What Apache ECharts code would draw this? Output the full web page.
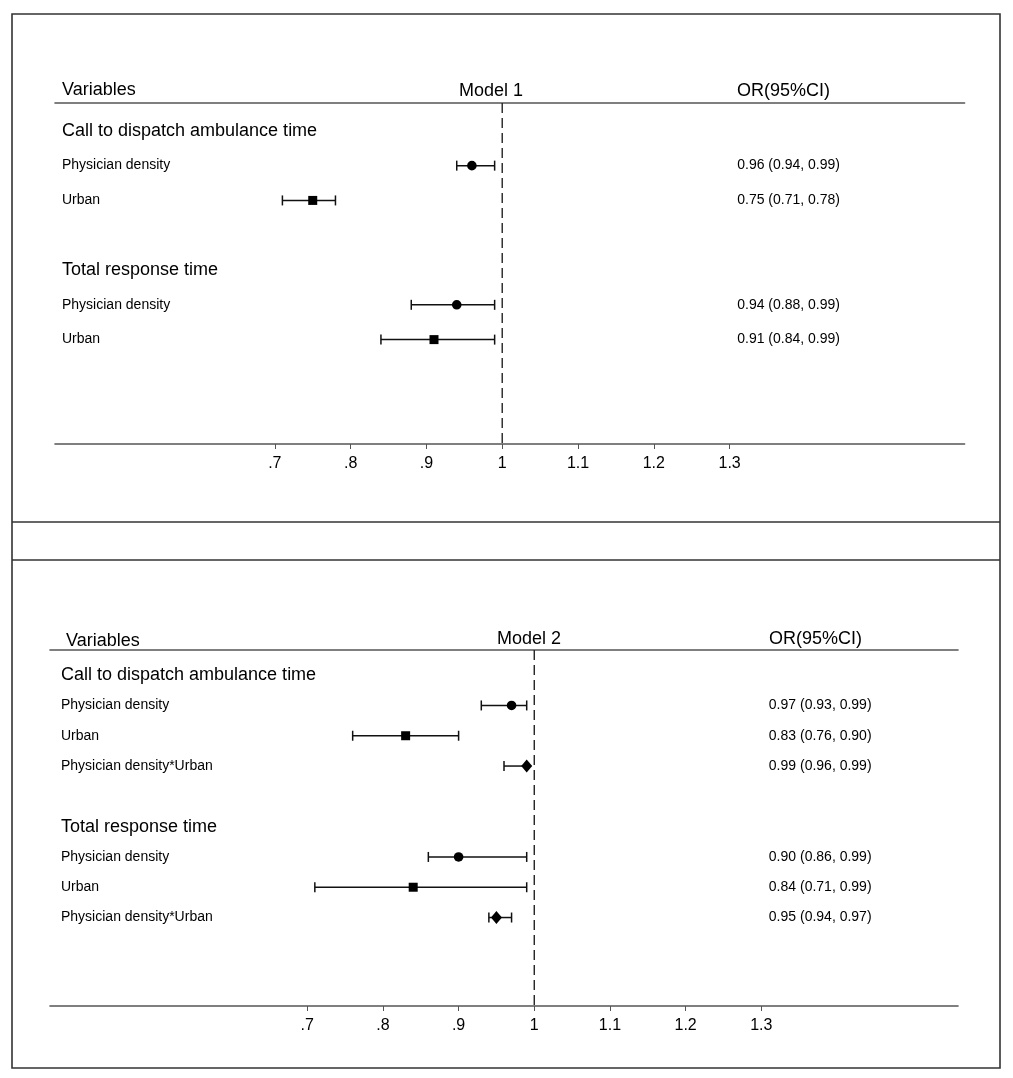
<!DOCTYPE html>
<html><head><meta charset="utf-8">
<script src="https://cdn.jsdelivr.net/npm/echarts@6/dist/echarts.min.js"></script>
<style>html,body{margin:0;padding:0;background:#fff}#c{width:1013px;height:1078px}</style>
</head><body><div id="c"></div>
<script>
// ---- data ----
const groups = ['Call to dispatch ambulance time', 'Total response time'];
const m1Vars = ['Physician density', 'Urban'];
const m2Vars = ['Physician density', 'Urban', 'Physician density*Urban'];
// Model 1 (group-major order: call-to-dispatch vars, then total response vars)
const m1OR = [0.96, 0.75, 0.94, 0.91];
const m1Lo = [0.94, 0.71, 0.88, 0.84];
const m1Hi = [0.99, 0.78, 0.99, 0.99];
// Model 2
const m2OR = [0.97, 0.83, 0.99, 0.90, 0.84, 0.95];
const m2Lo = [0.93, 0.76, 0.96, 0.86, 0.71, 0.94];
const m2Hi = [0.99, 0.90, 0.99, 0.99, 0.99, 0.97];
const tickVals = [0.7, 0.8, 0.9, 1, 1.1, 1.2, 1.3];
const tickLabels = ['.7', '.8', '.9', '1', '1.1', '1.2', '1.3'];
const modelTitles = ['Model 1', 'Model 2'];
const headVar = 'Variables';
const headOR = 'OR(95%CI)';
const markerKind = {'Physician density': 0, 'Urban': 1, 'Physician density*Urban': 2};

const FONT = '"Liberation Sans", Arial, Helvetica, sans-serif';

function buildPanel(vars, or, lo, hi) {
  const est = [], labels = [];
  let r = 0, k = 0;
  groups.forEach(g => {
    labels.push({row: r, text: g, kind: 'group'});
    vars.forEach(v => {
      r++;
      labels.push({row: r, text: v, kind: 'item'});
      labels.push({row: r, text: or[k].toFixed(2) + ' (' + lo[k].toFixed(2) + ', ' + hi[k].toFixed(2) + ')', kind: 'or'});
      est.push([or[k], lo[k], hi[k], r, markerKind[v]]);
      k++;
    });
    r += 2;
  });
  return {est, labels};
}
const p1 = buildPanel(m1Vars, m1OR, m1Lo, m1Hi);
const p2 = buildPanel(m2Vars, m2OR, m2Lo, m2Hi);

const panels = [
  {grid: {left: 55, top: 103, width: 909.6, height: 341}, xMin: 0.41, xMax: 1.61, yMin: -0.8, yMax: 9, labelOff: 7, orX: 1.31, data: p1},
  {grid: {left: 50, top: 650, width: 908, height: 356}, xMin: 0.36, xMax: 1.56, yMin: -0.83, yMax: 10.92, labelOff: 11, orX: 1.31, data: p2}
];

function estRender(params, api) {
  const y = api.coord([1, api.value(3)])[1];
  const xm = api.coord([api.value(0), 0])[0];
  const xl = api.coord([api.value(1), 0])[0];
  const xh = api.coord([api.value(2), 0])[0];
  const kind = api.value(4);
  const st = {stroke: '#111', lineWidth: 1.5};
  const ch = [
    {type: 'line', shape: {x1: xl, y1: y, x2: xh, y2: y}, style: st},
    {type: 'line', shape: {x1: xl, y1: y - 5, x2: xl, y2: y + 5}, style: st},
    {type: 'line', shape: {x1: xh, y1: y - 5, x2: xh, y2: y + 5}, style: st}
  ];
  if (kind === 0) ch.push({type: 'circle', shape: {cx: xm, cy: y, r: 4.8}, style: {fill: '#000'}});
  else if (kind === 1) ch.push({type: 'rect', shape: {x: xm - 4.5, y: y - 4.5, width: 9, height: 9}, style: {fill: '#000'}});
  else ch.push({type: 'polygon', shape: {points: [[xm, y - 6.5], [xm + 5.5, y], [xm, y + 6.5], [xm - 5.5, y]]}, style: {fill: '#000'}});
  return {type: 'group', children: ch};
}

function labelRender(pi) {
  return function (params, api) {
    const lab = panels[pi].data.labels[params.dataIndex];
    const y = api.coord([1, api.value(1)])[1];
    let x;
    if (lab.kind === 'or') x = api.coord([panels[pi].orX, 0])[0];
    else x = params.coordSys.x + panels[pi].labelOff;
    return {type: 'text', style: {x: x, y: y, text: lab.text, fill: '#000',
      font: (lab.kind === 'group' ? '18px ' : '14px ') + FONT, textAlign: 'left', textVerticalAlign: 'middle'}};
  };
}

const grids = [], xAxes = [], yAxes = [], series = [];
panels.forEach((p, i) => {
  grids.push(Object.assign({containLabel: false, outerBoundsMode: 'none'}, p.grid));
  xAxes.push({
    type: 'value', gridIndex: i, min: p.xMin, max: p.xMax, position: 'bottom',
    axisLine: {show: true, onZero: false, lineStyle: {color: '#555', width: 1.6}},
    axisTick: {show: true, customValues: tickVals, length: 5, lineStyle: {color: '#555', width: 1}},
    axisLabel: {show: true, customValues: tickVals, margin: 12, color: '#000', fontSize: 16, fontFamily: FONT,
      formatter: v => tickLabels[tickVals.findIndex(t => Math.abs(t - v) < 1e-6)] || ''},
    splitLine: {show: false}
  });
  xAxes.push({
    type: 'value', gridIndex: i, min: p.xMin, max: p.xMax, position: 'top',
    axisLine: {show: true, onZero: false, lineStyle: {color: '#555', width: 1.6}},
    axisTick: {show: false}, axisLabel: {show: false}, splitLine: {show: false}
  });
  yAxes.push({type: 'value', gridIndex: i, min: p.yMin, max: p.yMax, inverse: true, show: false, splitLine: {show: false}});
  series.push({
    type: 'line', xAxisIndex: i * 2, yAxisIndex: i, data: [[1, p.yMin], [1, p.yMax]], symbol: 'none', silent: true,
    lineStyle: {color: '#222', width: 1.4, type: [10, 5]}, z: 1
  });
  series.push({type: 'custom', xAxisIndex: i * 2, yAxisIndex: i, renderItem: estRender, data: p.data.est, z: 3});
  series.push({type: 'custom', xAxisIndex: i * 2, yAxisIndex: i, renderItem: labelRender(i),
    data: p.data.labels.map(l => [1, l.row]), z: 3});
});

const hdr = (text, x, y, align) => ({type: 'text', x: x, y: y,
  style: {text: text, fill: '#000', font: '18px ' + FONT, textAlign: align, textVerticalAlign: 'middle'}});

const option = {
  backgroundColor: '#fff',
  animation: false,
  grid: grids, xAxis: xAxes, yAxis: yAxes, series: series,
  graphic: [
    {type: 'rect', shape: {x: 12, y: 14, width: 988, height: 1054}, style: {fill: 'none', stroke: '#333', lineWidth: 1.6}},
    {type: 'line', shape: {x1: 12, y1: 522, x2: 1000, y2: 522}, style: {stroke: '#333', lineWidth: 1.6}},
    {type: 'line', shape: {x1: 12, y1: 560, x2: 1000, y2: 560}, style: {stroke: '#333', lineWidth: 1.6}},
    hdr(headVar, 62, 90, 'left'),
    hdr(modelTitles[0], 491, 91, 'center'),
    hdr(headOR, 737, 91, 'left'),
    hdr(headVar, 66, 641, 'left'),
    hdr(modelTitles[1], 529, 639, 'center'),
    hdr(headOR, 769, 639, 'left')
  ]
};
const chart = echarts.init(document.getElementById('c'), null, {renderer: 'canvas'});
chart.setOption(option);
</script>
</body></html>
